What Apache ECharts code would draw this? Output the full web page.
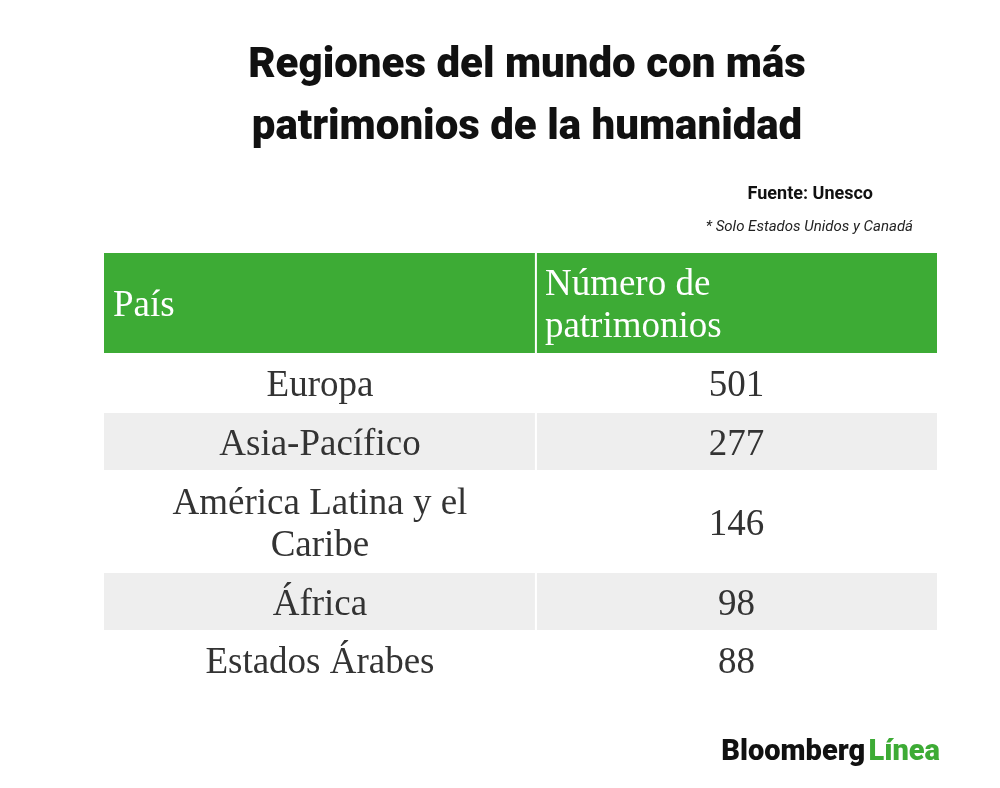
<!DOCTYPE html>
<html><head><meta charset="utf-8">
<script src="https://cdn.jsdelivr.net/npm/echarts@6/dist/echarts.min.js"></script>
<style>html,body{margin:0;background:#fff}#c{width:1000px;height:788px}</style>
</head><body><div id="c"></div>
<script>
var headers = ['País', 'Número de\npatrimonios'];
var regiones = ['Europa', 'Asia-Pacífico', 'América Latina y el\nCaribe', 'África', 'Estados Árabes'];
var patrimonios = [501, 277, 146, 98, 88];

// alto de cada fila (cabecera primero), en unidades del eje y
var rowHeights = [101, 59, 58, 102, 58, 59];
var colSplit = 1.037;   // división de columnas en unidades del eje x

var rows = [];
var acc = 0;
for (var i = 0; i < rowHeights.length; i++) {
  var r = i === 0 ? headers : [regiones[i - 1], String(patrimonios[i - 1])];
  rows.push([acc, acc + rowHeights[i], i, r[0], r[1]]);
  acc += rowHeights[i];
}

var chart = echarts.init(document.getElementById('c'));

function renderItem(params, api) {
  var y0 = api.value(0), y1 = api.value(1), idx = api.value(2);
  var p0 = api.coord([0, y0]), p1 = api.coord([colSplit, y1]), p2 = api.coord([2, y1]);
  var fill = idx === 0 ? '#3dab35' : (idx % 2 === 0 ? '#eeeeee' : '#ffffff');
  var head = idx === 0;
  var cy = (p0[1] + p1[1]) / 2 + 3;
  var txtStyle = {
    fontFamily: 'Liberation Serif', fontSize: 37, lineHeight: 42,
    fill: head ? '#ffffff' : '#333333', verticalAlign: 'middle'
  };
  return {
    type: 'group',
    children: [
      { type: 'rect', shape: { x: p0[0], y: p0[1], width: p1[0] - p0[0] - 1, height: p1[1] - p0[1] - 1 }, style: { fill: fill } },
      { type: 'rect', shape: { x: p1[0] + 1, y: p0[1], width: p2[0] - p1[0] - 1, height: p1[1] - p0[1] - 1 }, style: { fill: fill } },
      { type: 'text', x: head ? p0[0] + 9 : (p0[0] + p1[0]) / 2, y: cy,
        style: Object.assign({ text: api.value(3), align: head ? 'left' : 'center' }, txtStyle) },
      { type: 'text', x: head ? p1[0] + 9 : (p1[0] + p2[0]) / 2, y: cy,
        style: Object.assign({ text: api.value(4), align: head ? 'left' : 'center' }, txtStyle) }
    ]
  };
}

chart.setOption({
  animation: false,
  title: {
    text: 'Regiones del mundo con más\npatrimonios de la humanidad',
    left: 522, top: 30, textAlign: 'center',
    textStyle: { fontFamily: 'Roboto', fontWeight: 900, fontSize: 42, lineHeight: 62, color: '#111' }
  },
  grid: { left: 104, right: 63, top: 253, bottom: 98 },
  xAxis: { type: 'value', min: 0, max: 2, show: false },
  yAxis: { type: 'value', min: 0, max: acc, inverse: true, show: false },
  series: [{
    type: 'custom',
    renderItem: renderItem,
    dimensions: ['y0', 'y1', 'idx', 'c1', 'c2'],
    encode: { x: [], y: [0, 1] },
    data: rows
  }],
  graphic: [
    { type: 'text', right: 127, top: 185, style: { text: 'Fuente: Unesco', fontFamily: 'Roboto', fontWeight: 'bold', fontSize: 18, fill: '#111' } },
    { type: 'text', right: 87, top: 220, style: { text: '* Solo Estados Unidos y Canadá', fontFamily: 'Roboto', fontStyle: 'italic', fontSize: 15, fill: '#222' } },
    { type: 'text', right: 60, top: 738, style: {
        text: '{a|Bloomberg} {b|Línea}',
        rich: {
          a: { fontFamily: 'Roboto', fontWeight: 900, fontSize: 29, fill: '#111' },
          b: { fontFamily: 'Roboto', fontWeight: 900, fontSize: 29, fill: '#3dab35' }
        }
    } }
  ]
});
</script></body></html>
